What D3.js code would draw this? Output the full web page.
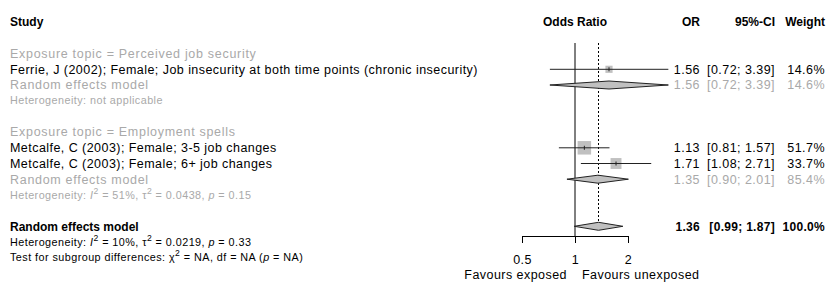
<!DOCTYPE html>
<html>
<head>
<meta charset="utf-8">
<script src="https://cdn.jsdelivr.net/npm/d3@7"></script>
<style>
  html, body { margin: 0; padding: 0; background: #fff; }
  svg { display: block; font-family: "Liberation Sans", Arial, sans-serif; }
</style>
</head>
<body>
<svg id="chart" width="827" height="282"></svg>
<script>
// ---- data ----
const subgroupLabels = ["Exposure topic = Perceived job security", "Exposure topic = Employment spells"];
const studyLabels = [
  "Ferrie, J (2002); Female; Job insecurity at both time points (chronic insecurity)",
  "Metcalfe, C (2003); Female; 3-5 job changes",
  "Metcalfe, C (2003); Female; 6+ job changes"
];
const studyGroup = [0, 1, 1];
const studyOR = [1.56, 1.13, 1.71];
const studyLower = [0.72, 0.81, 1.08];
const studyUpper = [3.39, 1.57, 2.71];
const studyWeight = [14.6, 51.7, 33.7];

const subOR = [1.56, 1.35];
const subLower = [0.72, 0.90];
const subUpper = [3.39, 2.01];
const subWeight = [14.6, 85.4];
const subHet = [
  null,
  { i2: "51%", tau2: "0.0438", p: "0.15" }
];

const overallOR = 1.36, overallLower = 0.99, overallUpper = 1.87, overallWeight = 100.0;
const overallHet = { i2: "10%", tau2: "0.0219", p: "0.33" };

const axisTicks = [0.5, 1, 2];
const headerLabels = ["Study", "Odds Ratio", "OR", "95%-CI", "Weight"];

// ---- layout ----
const svg = d3.select("#chart");
const x = d3.scaleLog().domain([0.5, 2]).range([522, 628]);
const rowY = d3.scaleLinear().domain([0, 1]).range([53.6, 69.3]);
const sq = d3.scaleSqrt().domain([0, 51.7]).range([0, 13.5]);

const BLACK = "#000";
const GRAY = "#a9a9a9";
const FS = 12.5, FS_BOLD = 12, FS_SMALL = 10.8;
const LS = 0.45, LS_GRAY = 0.7;
const colOR = 700, colCI = 775, colW = 825, colStudy = 10;
const f2 = d3.format(".2f"), f1 = d3.format(".1f");

function label(xp, y, txt, opts) {
  const o = Object.assign({ size: FS, color: BLACK, bold: false, anchor: "start", ls: LS }, opts || {});
  return svg.append("text").attr("x", xp).attr("y", y).attr("dy", "0.35em")
    .attr("font-size", o.size).attr("fill", o.color)
    .attr("font-weight", o.bold ? "bold" : "normal")
    .attr("letter-spacing", o.ls)
    .attr("text-anchor", o.anchor).text(txt);
}

// build rows
const rows = [];
let r = 0;
subgroupLabels.forEach((lab, g) => {
  rows.push({ type: "sub", label: lab, row: r++ });
  studyLabels.forEach((s, i) => {
    if (studyGroup[i] === g) rows.push({ type: "study", i, row: r++ });
  });
  rows.push({ type: "subRE", g, row: r++ });
  rows.push({ type: "subHet", g, row: r++ });
  r++;
});
const overallRow = r;

// header
label(colStudy, 22, headerLabels[0], { bold: true, size: FS_BOLD, ls: 0 });
label(x(1), 22, headerLabels[1], { bold: true, size: FS_BOLD, ls: 0, anchor: "middle" });
label(colOR, 22, headerLabels[2], { bold: true, size: FS_BOLD, ls: 0, anchor: "end" });
label(colCI, 22, headerLabels[3], { bold: true, size: FS_BOLD, ls: 0, anchor: "end" });
label(colW, 22, headerLabels[4], { bold: true, size: FS_BOLD, ls: 0, anchor: "end" });

// reference lines
const topY = 43;
svg.append("line").attr("x1", x(1)).attr("x2", x(1)).attr("y1", topY).attr("y2", 236)
  .attr("stroke", BLACK).attr("stroke-width", 1);
svg.append("line").attr("x1", x(overallOR)).attr("x2", x(overallOR)).attr("y1", topY).attr("y2", rowY(overallRow) - 3)
  .attr("stroke", BLACK).attr("stroke-width", 1).attr("stroke-dasharray", "2,2");

function rightCols(y, or, lo, hi, w, color, bold) {
  const o = bold ? { bold: true, size: FS_BOLD, ls: 0.3, color, anchor: "end" }
                 : { color, anchor: "end", ls: color === GRAY ? LS : LS };
  label(colOR, y, f2(or), o);
  label(colCI, y, "[" + f2(lo) + "; " + f2(hi) + "]", o);
  label(colW, y, f1(w) + "%", o);
}

function diamond(y, or, lo, hi) {
  const h = 4;
  const pts = [[x(lo), y], [x(or), y - h], [x(hi), y], [x(or), y + h]];
  svg.append("path").attr("d", d3.line()(pts) + "Z")
    .attr("fill", "#c0c0c0").attr("stroke", "#222").attr("stroke-width", 1);
}

function hetText(y, het, color, size) {
  const t = svg.append("text").attr("x", colStudy).attr("y", y).attr("dy", "0.35em")
    .attr("font-size", size).attr("fill", color).attr("letter-spacing", LS);
  t.append("tspan").text("Heterogeneity: ");
  if (!het) { t.append("tspan").text("not applicable"); return; }
  t.append("tspan").attr("font-style", "italic").text("I");
  t.append("tspan").attr("dy", -5).attr("font-size", size * 0.8).text("2");
  t.append("tspan").attr("dy", 5).text(" = " + het.i2 + ", \u03c4");
  t.append("tspan").attr("dy", -5).attr("font-size", size * 0.8).text("2");
  t.append("tspan").attr("dy", 5).text(" = " + het.tau2 + ", ");
  t.append("tspan").attr("font-style", "italic").text("p");
  t.append("tspan").text(" = " + het.p);
}

rows.forEach(d => {
  const y = rowY(d.row);
  if (d.type === "sub") {
    label(colStudy, y, d.label, { color: GRAY, ls: LS_GRAY });
  } else if (d.type === "study") {
    const i = d.i;
    label(colStudy, y, studyLabels[i]);
    const s = sq(studyWeight[i]);
    svg.append("rect").attr("x", x(studyOR[i]) - s / 2).attr("y", y - s / 2)
      .attr("width", s).attr("height", s).attr("fill", "#c0c0c0");
    svg.append("line").attr("x1", x(studyLower[i])).attr("x2", x(studyUpper[i]))
      .attr("y1", y).attr("y2", y).attr("stroke", "#222").attr("stroke-width", 1);
    svg.append("line").attr("x1", x(studyOR[i])).attr("x2", x(studyOR[i]))
      .attr("y1", y - 2).attr("y2", y + 2).attr("stroke", "#222").attr("stroke-width", 1);
    rightCols(y, studyOR[i], studyLower[i], studyUpper[i], studyWeight[i], BLACK, false);
  } else if (d.type === "subRE") {
    const g = d.g;
    label(colStudy, y, "Random effects model", { color: GRAY, ls: LS_GRAY });
    diamond(y, subOR[g], subLower[g], subUpper[g]);
    rightCols(y, subOR[g], subLower[g], subUpper[g], subWeight[g], GRAY, false);
  } else if (d.type === "subHet") {
    hetText(y, subHet[d.g], GRAY, FS_SMALL);
  }
});

// overall
const yo = rowY(overallRow);
label(colStudy, yo, "Random effects model", { bold: true, size: FS_BOLD, ls: 0 });
diamond(yo, overallOR, overallLower, overallUpper);
rightCols(yo, overallOR, overallLower, overallUpper, overallWeight, BLACK, true);
hetText(rowY(overallRow + 1), overallHet, BLACK, FS_SMALL);

const tt = svg.append("text").attr("x", colStudy).attr("y", rowY(overallRow + 2)).attr("dy", "0.35em")
  .attr("font-size", FS_SMALL).attr("fill", BLACK).attr("letter-spacing", LS);
tt.append("tspan").text("Test for subgroup differences: \u03c7");
tt.append("tspan").attr("dy", -5).attr("font-size", FS_SMALL * 0.8).text("2");
tt.append("tspan").attr("dy", 5).text(" = NA, df = NA (");
tt.append("tspan").attr("font-style", "italic").text("p");
tt.append("tspan").text(" = NA)");

// axis
const axis = d3.axisBottom(x).tickValues(axisTicks).tickFormat(d3.format("")).tickSize(7).tickSizeOuter(0).tickPadding(12);
const ag = svg.append("g").attr("transform", "translate(0,236)").call(axis);
ag.selectAll("text").attr("font-size", FS).attr("font-family", "Liberation Sans, Arial, sans-serif")
  .attr("fill", BLACK).attr("letter-spacing", LS);
ag.selectAll("line, path").attr("stroke", BLACK);

label(x(1) - 8, 274.5, "Favours exposed", { anchor: "end" });
label(x(1) + 7, 274.5, "Favours unexposed");
</script>
</body>
</html>
